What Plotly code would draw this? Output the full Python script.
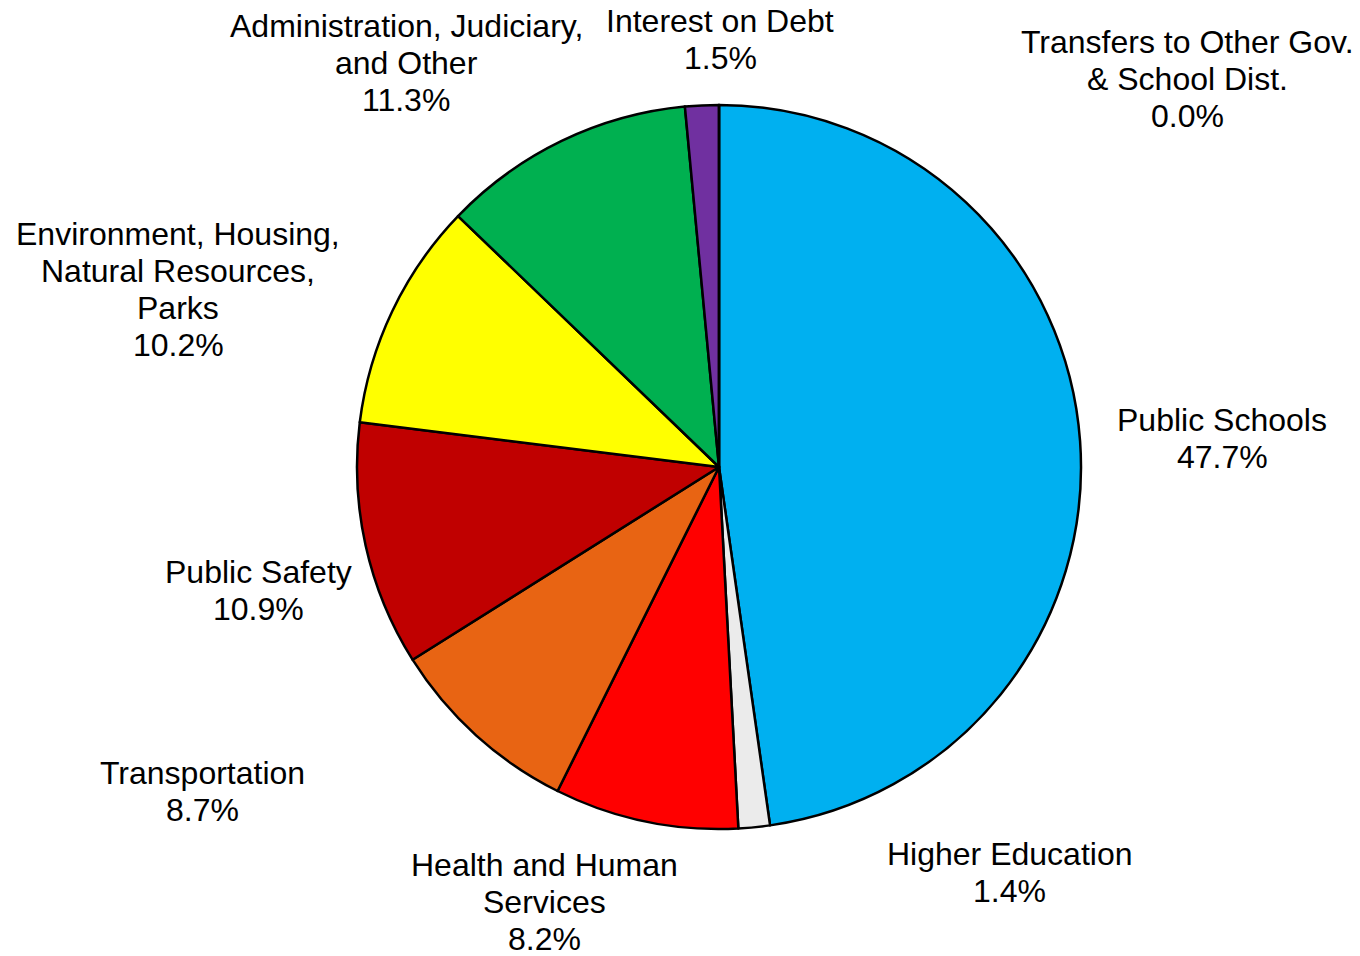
import plotly.graph_objects as go

# ---- data ----
categories = [
    "Public Schools",
    "Higher Education",
    "Health and Human\nServices",
    "Transportation",
    "Public Safety",
    "Environment, Housing,\nNatural Resources,\nParks",
    "Administration, Judiciary,\nand Other",
    "Interest on Debt",
    "Transfers to Other Gov.\n& School Dist.",
]
shares = [47.7, 1.4, 8.2, 8.7, 10.9, 10.2, 11.3, 1.5, 0.0]
colors = ["#00B0F0", "#EBEBEB", "#FF0000", "#E86413", "#C00000",
          "#FFFF00", "#00B050", "#7030A0", "#4F81BD"]

# ---- layout geometry (page pixels; the page body adds an 8px offset) ----
OFF = 8
W, H = 1360 - OFF, 956 - OFF
label_pos = [
    (1222, 438), (1010, 872), (544, 902), (203, 791), (258, 590),
    (178, 289.5), (406, 63), (720, 39.5), (1187, 79),
]
LINE = 37
FONT = dict(family="Liberation Sans, Arial, sans-serif", size=32, color="black")

cx, cy, r = 719 - OFF, 467 - OFF, 362
fig = go.Figure(go.Pie(
    labels=[c.replace("\n", " ") for c in categories],
    values=shares,
    marker=dict(colors=colors, line=dict(color="black", width=2.5)),
    sort=False,
    direction="clockwise",
    rotation=0,
    textinfo="none",
    hoverinfo="label+percent",
    domain=dict(x=[(cx - r) / W, (cx + r) / W], y=[1 - (cy + r) / H, 1 - (cy - r) / H]),
    showlegend=False,
))

annotations = []
for name, val, (px, py) in zip(categories, shares, label_pos):
    lines = name.split("\n") + [f"{val:.1f}%"]
    n = len(lines)
    for i, ln in enumerate(lines):
        annotations.append(dict(
            x=(px - OFF) / W, y=1 - (py - OFF) / H, xref="paper", yref="paper",
            text=ln, showarrow=False, xanchor="center", yanchor="middle",
            yshift=-(i - (n - 1) / 2) * LINE, font=FONT,
        ))

fig.update_layout(
    width=W, height=H,
    margin=dict(l=0, r=0, t=0, b=0),
    paper_bgcolor="white", plot_bgcolor="white",
    annotations=annotations,
)

fig.write_html("out.html")
